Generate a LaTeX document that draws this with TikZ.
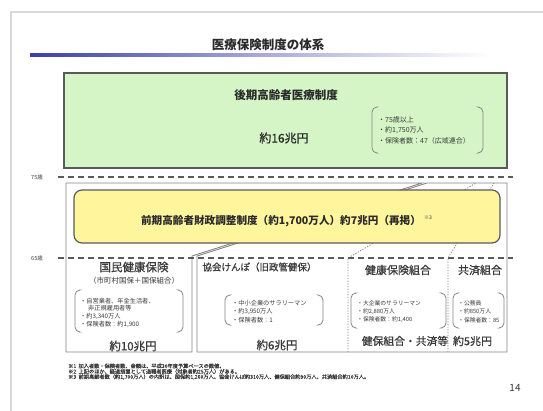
\documentclass[tikz,border=0pt]{standalone}
\usepackage{fontspec}
\setmainfont{Noto Sans CJK JP}
\newfontfamily\medfont[FakeBold=0.7]{Noto Sans CJK JP}
\newcommand\fsz[1]{\fontsize{#1}{#1}\selectfont}
\definecolor{gfill}{HTML}{D5F5C6}
\definecolor{yfill}{HTML}{FEF59C}
\definecolor{bord}{HTML}{5A5A5A}
\definecolor{lin}{HTML}{858585}
\definecolor{txt}{HTML}{2A2A2A}
\definecolor{txt2}{HTML}{3A3A3A}
\definecolor{barblue}{HTML}{3A40A8}
\tikzset{
  lbl/.style={inner sep=0pt, text=txt, font=#1},
  small/.style={inner sep=0pt, anchor=west, text=txt2, font=\fsz{6.2}},
  brk/.style={draw=lin, line width=0.8pt, rounded corners=5pt},
  agedash/.style={draw=bord, line width=1.3pt, dash pattern=on 6pt off 4pt},
  boxline/.style={draw=lin, line width=0.9pt},
  sepdot/.style={draw=lin, line width=0.8pt, dash pattern=on 1.2pt off 1.5pt},
  note/.style={inner sep=0pt, anchor=west, text=txt2, font=\fsz{5.2}\medfont}
}
\begin{document}
\begin{tikzpicture}[x=1pt,y=-1pt]
\useasboundingbox (0,0) rectangle (543,410);
\fill[white] (0,0) rectangle (543,410);
% page frame
\draw[black!15, line width=1.5pt] (11,412) -- (11,12) -- (545,12);
% title
\node[lbl=\fsz{12.5}\bfseries] (title) at (268,45) {医療保険制度の体系};
\shade[left color=barblue, right color=white, middle color=barblue!45] (30,53.5) rectangle (490,56.5);
% green box
\node[draw=bord, line width=1.2pt, fill=gfill, minimum width=443pt, minimum height=95pt, inner sep=0pt] (kouki) at (285.5,120.5) {};
\node[lbl=\fsz{11.5}\bfseries] (koukiT) at (286,95) {後期高齢者医療制度};
\node[lbl=\fsz{12}\medfont] (kouki16) at (284,138) {約16兆円};
\draw[brk] (376,107) -- (372,107) -- (372,153) -- (376,153);
\draw[brk] (479,107) -- (483,107) -- (483,153) -- (479,153);
\node[small, font=\fsz{7}] (k1) at (378,120) {・75歳以上};
\node[small, font=\fsz{7}] (k2) at (378,130.5) {・約1,750万人};
\node[small, font=\fsz{7}] (k3) at (378,141) {・保険者数：47（広域連合）};
% 75 line
\node[lbl=\fsz{5.5}, text=txt2] (a75) at (37,177) {75歳};
\coordinate (d75a) at (58,177);
\coordinate (d75b) at (513,177);
\draw[agedash] (d75a) -- (d75b);
% lower regions
\draw[boxline] (66,183) -- (422,183) -- (192,256) -- (192,352) -- (66,352) -- cycle;
\draw[boxline] (427,183) -- (507,183) -- (507,352) -- (197,352) -- (197,256) -- cycle;
\draw[sepdot] (348,352) -- (348,258) -- (476,183);
\draw[sepdot] (448,352) -- (448,258) -- (494,183);
% yellow box
\node[draw=bord, line width=1.2pt, fill=yfill, rounded corners=8pt, minimum width=426pt, minimum height=53pt, inner sep=0pt] (zenki) at (287,216.5) {};
\node[lbl=\fsz{10.6}\bfseries] (zenkiT) at (281,221) {前期高齢者財政調整制度（約1,700万人）約7兆円（再掲）};
\node[lbl=\fsz{5}, text=txt2] (z3) at (428,218) {※3};
% 65 line
\node[lbl=\fsz{5.5}, text=txt2] (a65) at (37,258) {65歳};
\coordinate (d65a) at (58,258);
\coordinate (d65b) at (513,258);
\draw[agedash] (d65a) -- (d65b);
% 国民健康保険
\node[lbl=\fsz{11.5}\medfont, text=txt2] (kokuho) at (134,267) {国民健康保険};
\node[lbl=\fsz{7.5}, text=txt2] (kokuhoS) at (134,281) {（市町村国保＋国保組合）};
\draw[brk] (79,290) -- (75,290) -- (75,332) -- (79,332);
\draw[brk] (179,290) -- (183,290) -- (183,332) -- (179,332);
\node[small] (n1) at (80,301) {・自営業者、年金生活者、};
\node[small] (n2) at (88,308) {非正規雇用者等};
\node[small] (n3) at (80,316) {・約3,340万人};
\node[small] (n4) at (80,324) {・保険者数：約1,900};
\node[lbl=\fsz{11.5}\medfont, text=txt2] (kokuho10) at (133,346) {約10兆円};
% 協会けんぽ
\node[lbl=\fsz{9.5}\medfont, text=txt2] (kyokai) at (259.5,267) {協会けんぽ（旧政管健保）};
\draw[brk] (229,295) -- (225,295) -- (225,325) -- (229,325);
\draw[brk] (319,295) -- (323,295) -- (323,325) -- (319,325);
\node[small] (c1) at (232,303) {・中小企業のサラリーマン};
\node[small] (c2) at (232,311.5) {・約3,950万人};
\node[small] (c3) at (232,320) {・保険者数：1};
\node[lbl=\fsz{11.5}\medfont, text=txt2] (kyokai6) at (277,345) {約6兆円};
% 健康保険組合
\node[lbl=\fsz{11}\medfont, text=txt2] (kenpo) at (398,270) {健康保険組合};
\draw[brk] (355,293) -- (351,293) -- (351,328) -- (355,328);
\draw[brk] (442,293) -- (446,293) -- (446,328) -- (442,328);
\node[small, font=\fsz{5.8}] (h1) at (357,303) {・大企業のサラリーマン};
\node[small, font=\fsz{5.8}] (h2) at (357,311.5) {・約2,880万人};
\node[small, font=\fsz{5.8}] (h3) at (357,320) {・保険者数：約1,400};
% 共済組合
\node[lbl=\fsz{11}\medfont, text=txt2] (kyosai) at (480,270) {共済組合};
\draw[brk] (457,293) -- (453,293) -- (453,328) -- (457,328);
\draw[brk] (500,293) -- (504,293) -- (504,328) -- (500,328);
\node[small, font=\fsz{5.8}] (s1) at (458,303) {・公務員};
\node[small, font=\fsz{5.8}] (s2) at (458,311.5) {・約850万人};
\node[small, font=\fsz{5.8}] (s3) at (458,320) {・保険者数：85};
\node[lbl=\fsz{10.8}\medfont, text=txt2] (kenkyo) at (405,341) {健保組合・共済等};
\node[lbl=\fsz{11}\medfont, text=txt2] (kenkyo5) at (472.5,341) {約5兆円};
% footnotes
\node[note] (f1) at (68,366) {※1\ \ 加入者数・保険者数、金額は、平成30年度予算ベースの数値。};
\node[note] (f2) at (68,371.5) {※2\ \ 上記のほか、経過措置として退職者医療（対象者約25万人）がある。};
\node[note] (f3) at (68,377) {※3\ \ 前期高齢者数（約1,700万人）の内訳は、国保約1,260万人、協会けんぽ約310万人、健保組合約90万人、共済組合約10万人。};
\node[lbl=\fsz{10}, text=txt2] (page) at (515,388) {14};
\end{tikzpicture}
\end{document}
